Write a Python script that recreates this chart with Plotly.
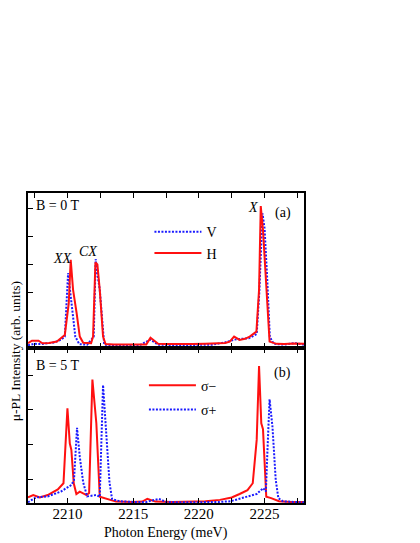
import plotly.graph_objects as go
from plotly.subplots import make_subplots

# panel (a): B = 0 T, linear polarisation
h_energy = [2207.0, 2207.3, 2207.8, 2208.1, 2208.6, 2209.2, 2209.8, 2210.1, 2210.25, 2210.43, 2210.7,
            2210.94, 2211.2, 2211.8, 2211.95, 2212.13, 2212.28, 2212.46, 2212.71, 2212.9, 2213.5, 2214.5,
            2215.5, 2216.0, 2216.32, 2216.9, 2217.5, 2218.5, 2219.5, 2220.5, 2221.5, 2222.0, 2222.35,
            2222.68, 2223.1, 2223.5, 2223.87, 2224.38, 2224.58, 2224.71, 2224.88, 2225.13, 2225.38,
            2225.9, 2226.5, 2227.2, 2228.0]
h_int = [0.17, 0.26, 0.26, 0.17, 0.18, 0.23, 0.47, 1.6, 3.17, 2.09, 1.25,
         0.41, 0.19, 0.17, 0.41, 3.07, 3.0, 2.09, 0.41, 0.14, 0.13, 0.13,
         0.14, 0.13, 0.37, 0.15, 0.14, 0.13, 0.14, 0.15, 0.16, 0.18, 0.23,
         0.41, 0.29, 0.33, 0.41, 0.59, 2.09, 5.1, 4.24, 2.09, 0.23,
         0.15, 0.14, 0.16, 0.15]

v_energy = [2207.0, 2207.5, 2208.0, 2208.5, 2209.0, 2209.5, 2209.8, 2210.05, 2210.2, 2210.6, 2210.9,
            2211.5, 2212.0, 2212.15, 2212.3, 2212.46, 2212.8, 2213.5, 2214.5, 2215.5, 2216.3, 2216.9,
            2218.0, 2219.0, 2220.0, 2221.0, 2222.0, 2222.7, 2223.2, 2223.8, 2224.4, 2224.6, 2224.84,
            2225.0, 2225.2, 2225.4, 2225.7, 2226.5, 2227.3, 2228.0]
v_int = [0.1, 0.15, 0.14, 0.16, 0.2, 0.3, 0.41, 2.69, 2.09, 0.41, 0.14,
         0.12, 0.4, 3.19, 2.6, 2.09, 0.12, 0.1, 0.1, 0.1, 0.3, 0.12,
         0.1, 0.1, 0.1, 0.12, 0.2, 0.3, 0.33, 0.35, 0.5, 2.0, 4.84,
         4.3, 2.5, 0.4, 0.15, 0.12, 0.18, 0.12]

# panel (b): B = 5 T, circular polarisation
sm_energy = [2207.0, 2207.4, 2207.9, 2208.5, 2209.27, 2209.7, 2210.0, 2210.18, 2210.3, 2210.48, 2210.68,
             2210.94, 2211.45, 2211.65, 2211.9, 2212.2, 2212.46, 2213.0, 2213.7, 2215.0, 2215.7, 2216.08,
             2216.7, 2218.0, 2219.5, 2220.5, 2221.6, 2222.5, 2223.1, 2223.7, 2224.1, 2224.4, 2224.58,
             2224.75, 2224.88, 2225.13, 2225.5, 2226.1, 2227.0, 2228.0]
sm_int = [0.47, 0.54, 0.47, 0.54, 0.70, 0.88, 3.04, 2.03, 1.84, 0.88, 0.57,
          0.64, 0.54, 0.6, 3.87, 2.61, 0.49, 0.42, 0.35, 0.34, 0.35, 0.43,
          0.35, 0.34, 0.35, 0.36, 0.40, 0.47, 0.57, 0.68, 0.88, 2.13, 4.26,
          2.61, 2.44, 0.49, 0.45, 0.36, 0.34, 0.34]

sp_energy = [2207.0, 2207.6, 2208.5, 2209.5, 2210.3, 2210.5, 2210.73, 2210.94, 2211.2, 2211.5, 2212.2,
             2212.46, 2212.71, 2212.9, 2213.2, 2213.4, 2214.0, 2215.0, 2216.0, 2216.96, 2217.5, 2219.0,
             2220.5, 2221.5, 2222.4, 2223.6, 2224.4, 2224.9, 2225.1, 2225.2, 2225.38, 2225.6, 2225.85,
             2226.05, 2226.4, 2227.2, 2228.0]
sp_int = [0.33, 0.47, 0.5, 0.64, 0.83, 0.97, 2.48, 1.64, 0.9, 0.5, 0.54,
          0.49, 3.71, 2.61, 0.9, 0.42, 0.36, 0.34, 0.34, 0.43, 0.34, 0.33,
          0.33, 0.34, 0.36, 0.49, 0.57, 0.74, 0.64, 1.64, 3.30, 2.51, 0.97,
          0.45, 0.36, 0.34, 0.33]

tick_vals = [2207.5, 2210, 2212.5, 2215, 2217.5, 2220, 2222.5, 2225, 2227.5]
tick_text = ['', '2210', '', '2215', '', '2220', '', '2225', '']

RED = '#ff1010'
BLUE = '#1a1aff'
DOTS = '2px,1.5px'
FONT = '"Liberation Serif", "Times New Roman", serif'

fig = make_subplots(rows=2, cols=1, shared_xaxes=True, vertical_spacing=0)

fig.add_trace(go.Scatter(x=v_energy, y=v_int, mode='lines', name='V',
                         line=dict(color=BLUE, width=2, dash=DOTS), legend='legend'), row=1, col=1)
fig.add_trace(go.Scatter(x=h_energy, y=h_int, mode='lines', name='H',
                         line=dict(color=RED, width=2), legend='legend'), row=1, col=1)
fig.add_trace(go.Scatter(x=sm_energy, y=sm_int, mode='lines', name='σ−', legendgroup='m',
                         line=dict(color=RED, width=2), legend='legend2'), row=2, col=1)
fig.add_trace(go.Scatter(x=sp_energy, y=sp_int, mode='lines', name='σ+', legendgroup='p',
                         line=dict(color=BLUE, width=2, dash=DOTS), legend='legend2'), row=2, col=1)

axis_common = dict(showline=True, linecolor='black', linewidth=1.5, mirror='ticks',
                   ticks='inside', ticklen=5, tickcolor='black', showgrid=False, zeroline=False,
                   automargin=False)

fig.update_xaxes(range=[2207, 2228], tickvals=tick_vals, ticktext=tick_text,
                 tickfont=dict(family=FONT, size=15), ticklabelstandoff=-4, **axis_common)
fig.update_yaxes(showline=True, linecolor='black', linewidth=1.5, mirror=True, ticks='inside',
                 ticklen=5, tickcolor='black', showgrid=False, zeroline=False, showticklabels=False,
                 automargin=False)
fig.update_yaxes(range=[0, 5.57], tickvals=[1, 2, 3, 4, 5], row=1, col=1)
fig.update_yaxes(range=[0.31, 4.78], tickvals=[1, 2, 3, 4], row=2, col=1)

ann_font = dict(family=FONT, size=14, color='black')
fig.add_annotation(text='B = 0 T', x=0.02, y=0.98, xref='x domain', yref='y domain',
                   xanchor='left', yanchor='top', showarrow=False, font=ann_font)
fig.add_annotation(text='B = 5 T', x=0.02, y=0.95, xref='x2 domain', yref='y2 domain',
                   xanchor='left', yanchor='top', showarrow=False, font=ann_font)
fig.add_annotation(text='(a)', x=0.96, y=0.87, xref='x domain', yref='y domain',
                   xanchor='right', yanchor='middle', showarrow=False, font=ann_font)
fig.add_annotation(text='(b)', x=0.96, y=0.84, xref='x2 domain', yref='y2 domain',
                   xanchor='right', yanchor='middle', showarrow=False, font=ann_font)
fig.add_annotation(text='<i>XX</i>', x=2209.6, y=3.2, xref='x', yref='y',
                   showarrow=False, font=ann_font)
fig.add_annotation(text='<i>CX</i>', x=2211.6, y=3.45, xref='x', yref='y',
                   showarrow=False, font=ann_font)
fig.add_annotation(text='<i>X</i>', x=2224.1, y=5.05, xref='x', yref='y',
                   showarrow=False, font=ann_font)
# axis titles
fig.add_annotation(text='μ-PL Intensity (arb. units)', x=-0.047, y=0.49, xref='paper', yref='paper',
                   xanchor='center', yanchor='middle', textangle=-90, showarrow=False,
                   font=dict(family=FONT, size=13.5, color='black'))
fig.add_annotation(text='Photon Energy (meV)', x=0.5, y=-0.097, xref='paper', yref='paper',
                   xanchor='center', yanchor='middle', showarrow=False,
                   font=dict(family=FONT, size=14, color='black'))

legend_common = dict(bgcolor='rgba(0,0,0,0)', borderwidth=0, xanchor='left', yanchor='top',
                     itemwidth=47, font=dict(family=FONT, size=14, color='black'))
# the page body adds an 8 px margin, so the figure is drawn 8 px smaller
fig.update_layout(
    width=412, height=535,
    margin=dict(l=20, r=116, t=185, b=40, autoexpand=False),
    paper_bgcolor='white', plot_bgcolor='white',
    font=dict(family=FONT, size=13, color='black'),
    legend=dict(x=0.44, y=0.925, **legend_common),
    legend2=dict(x=0.42, y=0.43, tracegroupgap=3, **legend_common),
)

fig.write_html('out.html')
